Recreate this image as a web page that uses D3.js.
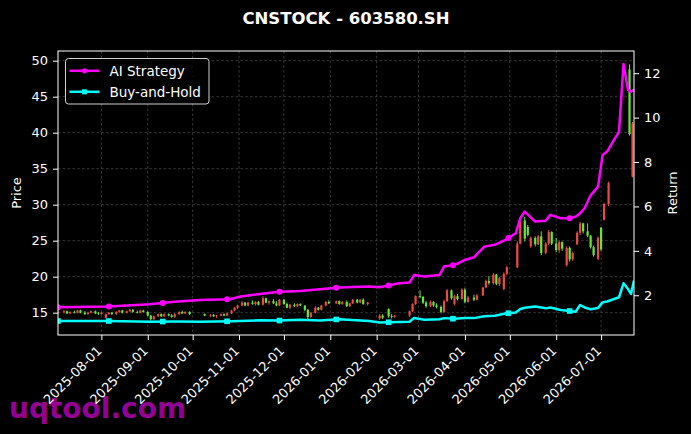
<!DOCTYPE html>
<html>
<head>
<meta charset="utf-8">
<script src="https://cdn.jsdelivr.net/npm/d3@7"></script>
<style>
  html, body { margin: 0; padding: 0; background: #000; }
  svg { display: block; font-family: "DejaVu Sans", sans-serif; }
</style>
</head>
<body>
<div id="chart"></div>
<script>
// daily bars: date, open, high, low, close
var candles = [
  ["2025-07-03",15.0,15.3,14.8,15.1], ["2025-07-07",15.1,15.4,14.9,15.2], ["2025-07-09",15.2,15.3,14.8,14.9],
  ["2025-07-11",14.9,15.2,14.8,15.1], ["2025-07-14",15.1,15.3,14.9,15.0], ["2025-07-16",15.0,15.4,14.9,15.3],
  ["2025-07-18",15.3,15.4,14.9,15.0], ["2025-07-21",15.0,15.2,14.7,14.8], ["2025-07-23",14.8,15.1,14.7,15.0],
  ["2025-07-25",15.0,15.3,14.9,15.2], ["2025-07-28",15.2,15.3,14.8,14.9], ["2025-07-30",14.9,15.1,14.7,14.8],
  ["2025-08-01",14.8,15.1,14.7,15.0], ["2025-08-04",14.3,14.9,14.2,14.8], ["2025-08-06",14.8,15.1,14.7,15.0],
  ["2025-08-08",15.0,15.1,14.7,14.8], ["2025-08-11",14.8,15.2,14.7,15.1], ["2025-08-13",15.1,15.4,15.0,15.3],
  ["2025-08-15",15.3,15.4,14.9,15.0], ["2025-08-18",15.0,15.3,14.9,15.2], ["2025-08-20",15.2,15.5,15.1,15.4],
  ["2025-08-22",15.4,15.5,15.0,15.1], ["2025-08-25",15.1,15.3,14.9,15.0], ["2025-08-27",15.0,15.4,14.9,15.3],
  ["2025-08-29",15.3,15.4,15.0,15.1], ["2025-09-01",15.1,15.2,14.5,14.6], ["2025-09-03",14.6,14.7,13.9,14.1],
  ["2025-09-05",14.1,14.6,14.0,14.5], ["2025-09-08",14.5,14.9,14.4,14.8], ["2025-09-10",14.8,14.9,14.4,14.5],
  ["2025-09-12",14.5,14.9,14.4,14.8], ["2025-09-15",14.8,14.9,14.5,14.6], ["2025-09-17",14.6,14.8,14.3,14.4],
  ["2025-09-19",14.4,14.9,14.3,14.8], ["2025-09-22",14.8,15.2,14.7,15.1], ["2025-09-24",15.1,15.3,14.8,14.9],
  ["2025-09-26",14.9,15.2,14.8,15.1], ["2025-09-29",15.1,15.2,14.7,14.8], ["2025-10-09",14.8,14.9,14.5,14.6],
  ["2025-10-13",14.6,14.8,14.4,14.7], ["2025-10-15",14.7,14.8,14.4,14.5], ["2025-10-17",14.5,14.7,14.3,14.6],
  ["2025-10-20",14.6,14.9,14.5,14.8], ["2025-10-22",14.8,14.9,14.5,14.6], ["2025-10-24",14.6,15.0,14.5,14.9],
  ["2025-10-27",14.9,15.4,14.8,15.3], ["2025-10-29",15.3,15.8,15.2,15.7], ["2025-10-31",15.7,16.1,15.5,16.0],
  ["2025-11-03",16.0,16.6,15.9,16.4], ["2025-11-05",16.4,16.5,15.9,16.0], ["2025-11-07",16.0,16.5,15.9,16.4],
  ["2025-11-10",16.4,16.7,16.1,16.2], ["2025-11-12",16.2,16.6,16.0,16.5], ["2025-11-14",16.5,16.6,16.0,16.1],
  ["2025-11-17",16.1,17.3,16.0,17.0], ["2025-11-19",17.0,17.1,16.3,16.4], ["2025-11-21",16.4,16.7,16.1,16.6],
  ["2025-11-24",16.6,16.9,16.2,16.3], ["2025-11-26",16.3,16.6,15.9,16.0], ["2025-11-28",16.0,16.9,15.9,16.8],
  ["2025-12-01",16.8,16.9,16.1,16.2], ["2025-12-03",16.2,16.4,15.6,15.7], ["2025-12-05",15.7,16.2,15.5,16.1],
  ["2025-12-08",16.1,16.3,15.8,15.9], ["2025-12-10",15.9,16.3,15.8,16.2], ["2025-12-12",16.2,16.3,15.9,16.0],
  ["2025-12-15",16.0,16.0,15.2,15.4], ["2025-12-17",15.4,15.5,14.1,14.4], ["2025-12-19",14.4,15.1,14.3,15.0],
  ["2025-12-22",15.0,15.9,14.9,15.7], ["2025-12-24",15.7,15.8,15.3,15.4], ["2025-12-26",15.4,16.1,15.3,16.0],
  ["2025-12-29",16.0,16.6,15.9,16.5], ["2025-12-31",16.5,16.7,16.2,16.3], ["2026-01-05",16.3,16.7,16.2,16.6],
  ["2026-01-07",16.6,16.7,16.1,16.2], ["2026-01-09",16.2,16.6,16.1,16.5], ["2026-01-12",16.5,16.7,15.8,15.9],
  ["2026-01-14",15.9,16.4,15.8,16.3], ["2026-01-16",16.3,16.9,16.2,16.8], ["2026-01-19",16.8,16.9,16.3,16.4],
  ["2026-01-21",16.4,16.9,16.3,16.8], ["2026-01-23",16.8,17.0,16.1,16.2], ["2026-01-26",16.2,16.5,16.0,16.4],
  ["2026-02-03",14.2,14.8,14.0,14.6], ["2026-02-05",14.6,14.8,14.1,14.3], ["2026-02-09",15.5,15.6,14.3,14.5],
  ["2026-02-11",14.5,14.8,14.2,14.4], ["2026-02-13",14.4,14.7,14.3,14.6], ["2026-02-23",14.6,15.3,14.4,15.2],
  ["2026-02-25",15.2,16.3,15.1,16.2], ["2026-02-27",16.2,17.4,16.1,17.3], ["2026-03-02",17.3,18.1,17.0,17.2],
  ["2026-03-04",17.2,17.3,16.2,16.4], ["2026-03-06",16.4,16.6,15.7,15.9], ["2026-03-09",15.9,16.7,15.8,16.5],
  ["2026-03-11",16.5,16.6,15.8,16.0], ["2026-03-13",16.0,16.3,15.6,15.8], ["2026-03-16",15.8,16.0,14.9,15.1],
  ["2026-03-18",15.1,16.8,15.0,16.6], ["2026-03-20",16.6,18.3,16.5,18.1], ["2026-03-23",18.1,18.2,16.8,17.0],
  ["2026-03-25",16.2,17.5,16.0,17.3], ["2026-03-27",17.3,17.6,16.7,16.9], ["2026-03-30",16.9,18.4,16.8,18.2],
  ["2026-04-01",18.2,18.4,16.3,16.5], ["2026-04-03",16.5,17.3,16.4,17.1], ["2026-04-07",17.1,17.5,16.6,16.8],
  ["2026-04-09",16.8,17.6,16.7,17.4], ["2026-04-13",17.4,18.6,17.3,18.5], ["2026-04-15",18.5,19.6,18.4,19.4],
  ["2026-04-17",19.4,20.1,18.9,19.1], ["2026-04-20",19.1,20.5,18.9,20.3], ["2026-04-22",20.3,20.4,18.8,19.0],
  ["2026-04-24",19.0,20.0,18.7,19.8], ["2026-04-27",18.3,20.6,18.1,20.4], ["2026-04-29",20.4,21.5,20.2,21.3],
  ["2026-05-06",21.3,24.9,21.2,24.6], ["2026-05-08",24.6,27.8,24.5,27.6], ["2026-05-11",27.8,28.3,24.9,25.3],
  ["2026-05-13",26.9,27.2,25.6,25.8], ["2026-05-15",24.2,25.6,24.0,25.4], ["2026-05-18",25.4,25.6,24.2,24.5],
  ["2026-05-20",24.5,25.8,24.4,25.6], ["2026-05-22",25.6,26.3,23.0,23.3], ["2026-05-25",23.3,24.8,23.1,24.6],
  ["2026-05-27",24.6,26.5,24.4,26.2], ["2026-05-29",26.2,26.3,24.4,24.6], ["2026-06-01",24.6,25.4,23.4,23.7],
  ["2026-06-03",23.7,25.0,23.3,24.8], ["2026-06-05",24.8,24.9,23.6,23.9], ["2026-06-08",21.6,24.2,21.4,24.0],
  ["2026-06-10",24.0,24.2,22.1,22.4], ["2026-06-12",22.4,23.5,22.2,23.3], ["2026-06-15",24.5,26.3,24.4,26.1],
  ["2026-06-17",26.1,27.6,25.8,27.4], ["2026-06-19",27.4,27.5,26.0,26.3], ["2026-06-22",26.3,27.4,25.5,25.7],
  ["2026-06-24",25.7,25.8,23.9,24.1], ["2026-06-26",24.1,24.3,22.8,23.0], ["2026-06-29",22.5,25.6,22.3,25.4],
  ["2026-07-01",26.8,26.9,23.5,23.8], ["2026-07-03",27.9,30.3,27.8,30.1], ["2026-07-06",30.1,33.2,29.8,33.0],
  ["2026-07-20",48.8,49.5,39.6,39.8], ["2026-07-22",33.9,41.5,33.8,41.3]
];

// cumulative return curves
var returnDates = [
  "2025-07-03","2025-08-06","2025-09-02","2025-09-19","2025-10-06","2025-10-26","2025-11-02","2025-11-15",
  "2025-11-28","2025-12-12","2025-12-25","2026-01-07","2026-01-27","2026-02-03","2026-02-16","2026-02-23",
  "2026-02-26","2026-03-05","2026-03-15","2026-03-18","2026-03-25","2026-04-01","2026-04-07","2026-04-14",
  "2026-04-21","2026-04-28","2026-05-05","2026-05-08","2026-05-11","2026-05-18","2026-05-25","2026-05-28",
  "2026-06-04","2026-06-10","2026-06-14","2026-06-17","2026-06-20","2026-06-24","2026-06-29","2026-07-02",
  "2026-07-05","2026-07-13","2026-07-16","2026-07-19","2026-07-21","2026-07-23"
];
var aiStrategy = [
  1.46,1.49,1.59,1.71,1.79,1.82,1.94,2.06,
  2.16,2.19,2.27,2.35,2.39,2.36,2.54,2.57,
  2.91,2.84,2.91,3.29,3.36,3.59,3.71,4.19,
  4.27,4.49,4.79,5.47,5.77,5.32,5.36,5.62,
  5.47,5.47,5.54,5.69,5.92,6.50,6.89,8.32,
  8.47,9.37,12.42,11.25,11.17,11.25
];
var buyHold = [
  0.84,0.84,0.81,0.82,0.81,0.83,0.84,0.87,
  0.86,0.90,0.86,0.92,0.84,0.77,0.80,0.81,
  0.98,0.90,0.92,0.97,0.94,0.98,0.97,1.05,
  1.08,1.18,1.22,1.38,1.44,1.49,1.41,1.45,
  1.34,1.29,1.26,1.56,1.45,1.37,1.43,1.68,
  1.72,1.91,2.54,2.28,2.06,2.66
];
var markerDates = ["2025-07-03","2025-08-06","2025-09-11","2025-10-24","2025-11-28","2026-01-05",
                   "2026-02-09","2026-03-24","2026-04-30","2026-06-10"];

var priceTicks = [15, 20, 25, 30, 35, 40, 45, 50];
var returnTicks = [2, 4, 6, 8, 10, 12];
var xDomain = ["2025-07-03", "2026-07-23"];

var W = 691, H = 434;
var plot = {left: 58, right: 634, top: 51, bottom: 335};
var upColor = "#ea4b45", downColor = "#66e63c";
var aiColor = "#ff00ff", bhColor = "#00ffff";

var parse = d3.utcParse("%Y-%m-%d");

var bars = candles.map(function(c) {
  return {date: parse(c[0]), open: c[1], high: c[2], low: c[3], close: c[4]};
});
var series = returnDates.map(function(d, i) {
  return {date: parse(d), ai: aiStrategy[i], bh: buyHold[i]};
});

var x = d3.scaleUtc().domain(xDomain.map(parse)).range([plot.left, plot.right]);
var yPrice = d3.scaleLinear().domain([11.9, 51.35]).range([plot.bottom, plot.top]);
var yRet = d3.scaleLinear().domain([0.21, 13.0]).range([plot.bottom, plot.top]);

var svg = d3.select("#chart").append("svg")
  .attr("width", W).attr("height", H)
  .style("background", "#000");

svg.append("defs").append("clipPath").attr("id", "plotclip")
  .append("rect")
  .attr("x", plot.left).attr("y", plot.top)
  .attr("width", plot.right - plot.left).attr("height", plot.bottom - plot.top);

// watermark sits under everything else
svg.append("text")
  .attr("x", 9).attr("y", 418)
  .attr("fill", "#940094")
  .style("font-size", "28px").style("font-weight", "bold")
  .text("uqtool.com");

// grid
var monthTicks = x.ticks(d3.utcMonth.every(1));
var grid = svg.append("g").attr("stroke", "#4d4d4d").attr("stroke-width", 0.7)
  .attr("stroke-dasharray", "2.6,2.2");
grid.selectAll(".vg").data(monthTicks).enter().append("line")
  .attr("x1", function(d) { return x(d); }).attr("x2", function(d) { return x(d); })
  .attr("y1", plot.top).attr("y2", plot.bottom);
grid.selectAll(".hg").data(priceTicks).enter().append("line")
  .attr("y1", function(d) { return yPrice(d); }).attr("y2", function(d) { return yPrice(d); })
  .attr("x1", plot.left).attr("x2", plot.right);

var inner = svg.append("g").attr("clip-path", "url(#plotclip)");

// candlesticks
var cg = inner.append("g");
cg.selectAll(".wick").data(bars).enter().append("line")
  .attr("x1", function(d) { return x(d.date); }).attr("x2", function(d) { return x(d.date); })
  .attr("y1", function(d) { return yPrice(d.high); }).attr("y2", function(d) { return yPrice(d.low); })
  .attr("stroke", function(d) { return d.close >= d.open ? upColor : downColor; })
  .attr("stroke-width", 1);
cg.selectAll(".body").data(bars).enter().append("rect")
  .attr("x", function(d) { return x(d.date) - 1.1; })
  .attr("width", 2.2)
  .attr("y", function(d) { return yPrice(Math.max(d.open, d.close)); })
  .attr("height", function(d) {
    return Math.max(0.8, yPrice(Math.min(d.open, d.close)) - yPrice(Math.max(d.open, d.close)));
  })
  .attr("fill", function(d) { return d.close >= d.open ? upColor : downColor; });

// return lines
function lineFor(key) {
  return d3.line().x(function(d) { return x(d.date); }).y(function(d) { return yRet(d[key]); });
}
inner.append("path").datum(series).attr("d", lineFor("bh"))
  .attr("fill", "none").attr("stroke", bhColor).attr("stroke-width", 2.5)
  .attr("stroke-linejoin", "round");
inner.append("path").datum(series).attr("d", lineFor("ai"))
  .attr("fill", "none").attr("stroke", aiColor).attr("stroke-width", 2.5)
  .attr("stroke-linejoin", "round");

var bisect = d3.bisector(function(d) { return d.date; }).left;
function valueAt(key, date) {
  var i = bisect(series, date);
  if (i <= 0) return series[0][key];
  if (i >= series.length) return series[series.length - 1][key];
  var a = series[i - 1], b = series[i];
  var t = (date - a.date) / (b.date - a.date);
  return a[key] + (b[key] - a[key]) * t;
}
var marks = markerDates.map(parse);
inner.selectAll(".bhm").data(marks).enter().append("rect")
  .attr("x", function(d) { return x(d) - 2.8; })
  .attr("y", function(d) { return yRet(valueAt("bh", d)) - 2.8; })
  .attr("width", 5.6).attr("height", 5.6).attr("fill", bhColor);
inner.selectAll(".aim").data(marks).enter().append("circle")
  .attr("cx", function(d) { return x(d); })
  .attr("cy", function(d) { return yRet(valueAt("ai", d)); })
  .attr("r", 3).attr("fill", aiColor);

// frame
svg.append("rect")
  .attr("x", plot.left).attr("y", plot.top)
  .attr("width", plot.right - plot.left).attr("height", plot.bottom - plot.top)
  .attr("fill", "none").attr("stroke", "#fff").attr("stroke-width", 1);

// axes
function styleAxis(g) {
  g.select(".domain").remove();
  g.selectAll(".tick line").attr("stroke", "#fff");
  g.selectAll(".tick text").attr("fill", "#fff").style("font-size", "13px")
    .style("font-family", "DejaVu Sans, sans-serif");
}
svg.append("g").attr("transform", "translate(" + plot.left + ",0)")
  .call(d3.axisLeft(yPrice).tickValues(priceTicks).tickSize(5).tickPadding(5))
  .call(styleAxis);
svg.append("g").attr("transform", "translate(" + plot.right + ",0)")
  .call(d3.axisRight(yRet).tickValues(returnTicks).tickSize(5).tickPadding(5))
  .call(styleAxis);
var xAxis = svg.append("g").attr("transform", "translate(0," + plot.bottom + ")")
  .call(d3.axisBottom(x).tickValues(monthTicks).tickFormat(d3.utcFormat("%Y-%m-%d")).tickSize(5))
  .call(styleAxis);
xAxis.selectAll(".tick text")
  .attr("text-anchor", "end")
  .attr("dy", null).attr("y", null)
  .attr("transform", "translate(-6,10) rotate(-45)")
  .attr("dy", "0.72em");

// axis labels
svg.append("text").attr("transform", "translate(21,193) rotate(-90)")
  .attr("text-anchor", "middle").attr("fill", "#fff").style("font-size", "13px").text("Price");
svg.append("text").attr("transform", "translate(677,193) rotate(-90)")
  .attr("text-anchor", "middle").attr("fill", "#fff").style("font-size", "13px").text("Return");

// title
svg.append("text").attr("x", 346).attr("y", 24)
  .attr("text-anchor", "middle").attr("fill", "#fff")
  .style("font-size", "16.5px").style("font-weight", "bold")
  .text("CNSTOCK - 603580.SH");

// legend
var legendItems = [
  {label: "AI Strategy", color: aiColor, marker: "circle"},
  {label: "Buy-and-Hold", color: bhColor, marker: "square"}
];
var lg = svg.append("g").attr("transform", "translate(65.5,58.5)");
lg.append("rect").attr("width", 143.5).attr("height", 45.5).attr("rx", 3)
  .attr("fill", "#000").attr("fill-opacity", 0.8)
  .attr("stroke", "#d0d0d0").attr("stroke-width", 1);
var li = lg.selectAll(".item").data(legendItems).enter().append("g")
  .attr("transform", function(d, i) { return "translate(0," + (12.3 + i * 21) + ")"; });
li.append("line").attr("x1", 4).attr("x2", 34).attr("y1", 0).attr("y2", 0)
  .attr("stroke", function(d) { return d.color; }).attr("stroke-width", 2.5);
li.each(function(d) {
  var g = d3.select(this);
  if (d.marker === "circle") {
    g.append("circle").attr("cx", 19).attr("cy", 0).attr("r", 2.6).attr("fill", d.color);
  } else {
    g.append("rect").attr("x", 16.5).attr("y", -2.5).attr("width", 5).attr("height", 5).attr("fill", d.color);
  }
});
li.append("text").attr("x", 44).attr("y", 0).attr("dy", "0.36em")
  .attr("fill", "#fff").style("font-size", "13.5px")
  .text(function(d) { return d.label; });
</script>
</body>
</html>
